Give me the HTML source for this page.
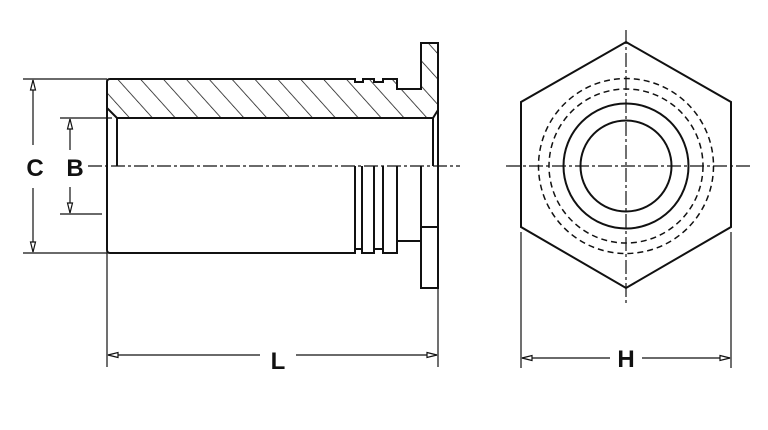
<!DOCTYPE html>
<html><head><meta charset="utf-8"><style>
html,body{margin:0;padding:0;background:#fff;}
svg{display:block}
text{font-family:"Liberation Sans",sans-serif;font-weight:bold;fill:#111}
</style></head><body>
<svg width="768" height="430" viewBox="0 0 768 430" xmlns="http://www.w3.org/2000/svg">
<defs>
<pattern id="h" patternUnits="userSpaceOnUse" width="17" height="17" patternTransform="rotate(-42)">
<line x1="0" y1="0" x2="0" y2="17" stroke="#111" stroke-width="1.5"/>
</pattern>
<marker id="a" markerWidth="12" markerHeight="8" refX="11" refY="4" orient="auto" markerUnits="userSpaceOnUse">
<path d="M1,1.5 L11,4 L1,6.5 Z" fill="#fff" stroke="#111" stroke-width="1.2"/>
</marker>
</defs>
<g stroke="#111" fill="none" stroke-width="2">
<path d="M110,79 L355,79 L355,82 L363,82 L363,79 L374,79 L374,82 L383,82 L383,79 L397,79 L397,89 L421,89 L421,43 L438,43 L438,110 L433,118 L117,118 L107,108 L107,82 Q107,79 110,79 Z" fill="url(#h)"/>
<path d="M107,108 L107,250 Q107,253 110,253 L355,253 L355,249 L362,249 L362,253 L374,253 L374,249 L383,249 L383,253 L397,253 L397,241 L421,241"/>
<line x1="117" y1="118" x2="117" y2="166"/>
<line x1="355" y1="166" x2="355" y2="253"/>
<line x1="362" y1="166" x2="362" y2="249"/>
<line x1="374" y1="166" x2="374" y2="249"/>
<line x1="383" y1="166" x2="383" y2="249"/>
<line x1="397" y1="166" x2="397" y2="241"/>
<line x1="433" y1="118" x2="433" y2="166"/>
<path d="M421,166 L421,288 L438,288 L438,110"/>
<line x1="421" y1="227" x2="438" y2="227"/>
<path d="M626,42 L731,102 L731,227 L626,288 L521,227 L521,102 Z"/>
<circle cx="626" cy="166" r="45.5"/>
<circle cx="626" cy="166" r="62.5"/>
<circle cx="626" cy="166" r="77" stroke-dasharray="6,4" stroke-width="1.5"/>
<circle cx="626" cy="166" r="87.5" stroke-dasharray="6,4" stroke-width="1.5"/>
</g>
<g stroke="#111" stroke-width="1.2" fill="none">
<line x1="88" y1="166" x2="460" y2="166" stroke-dasharray="14,3,3,3"/>
<line x1="506" y1="166" x2="752" y2="166" stroke-dasharray="14,3,3,3"/>
<line x1="626" y1="30" x2="626" y2="305" stroke-dasharray="14,3,3,3"/>
<line x1="23" y1="79" x2="107" y2="79"/>
<line x1="23" y1="253" x2="107" y2="253"/>
<line x1="60" y1="118" x2="112" y2="118"/>
<line x1="60" y1="214" x2="102" y2="214"/>
<line x1="107" y1="253" x2="107" y2="367"/>
<line x1="438" y1="288" x2="438" y2="367"/>
<line x1="521" y1="232" x2="521" y2="368"/>
<line x1="731" y1="232" x2="731" y2="368"/>
<line x1="33" y1="145" x2="33" y2="80" marker-end="url(#a)"/>
<line x1="33" y1="188" x2="33" y2="252" marker-end="url(#a)"/>
<line x1="70" y1="150" x2="70" y2="119" marker-end="url(#a)"/>
<line x1="70" y1="187" x2="70" y2="213" marker-end="url(#a)"/>
<line x1="260" y1="355" x2="108" y2="355" marker-end="url(#a)"/>
<line x1="296" y1="355" x2="437" y2="355" marker-end="url(#a)"/>
<line x1="610" y1="358" x2="522" y2="358" marker-end="url(#a)"/>
<line x1="642" y1="358" x2="730" y2="358" marker-end="url(#a)"/>
</g>
<text x="35" y="176" font-size="24" text-anchor="middle">C</text>
<text x="75" y="176" font-size="24" text-anchor="middle">B</text>
<text x="278" y="369" font-size="24" text-anchor="middle">L</text>
<text x="626" y="367" font-size="24" text-anchor="middle">H</text>
</svg>
</body></html>
